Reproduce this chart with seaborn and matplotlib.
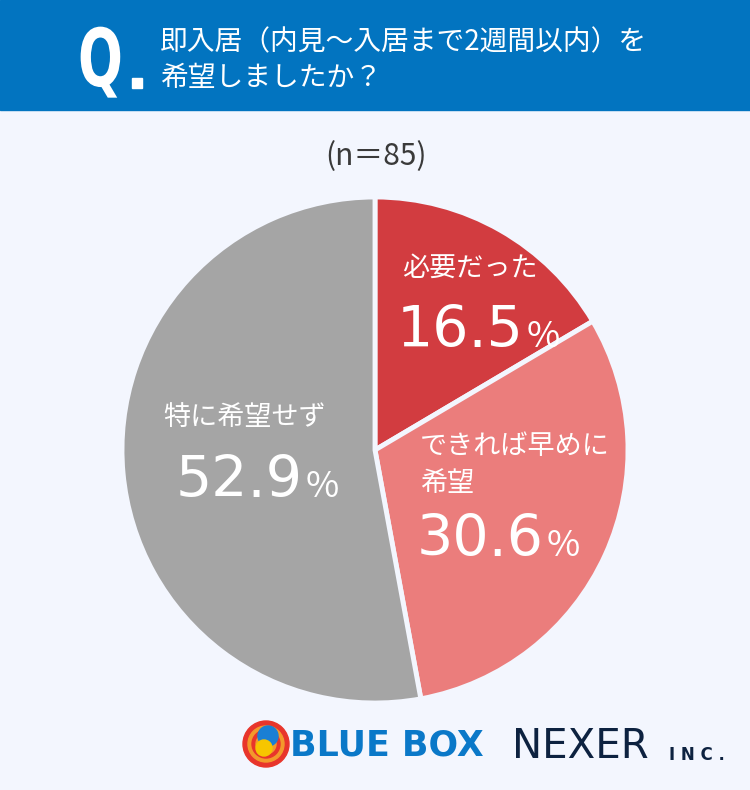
import matplotlib
matplotlib.use("Agg")
import matplotlib.pyplot as plt
import seaborn as sns
from matplotlib.patches import Rectangle, Circle, PathPatch
from matplotlib.textpath import TextPath
from matplotlib.font_manager import FontProperties
from matplotlib.transforms import Affine2D

# data
labels = ["必要だった", "できれば早めに\n希望", "特に希望せず"]
values = [16.5, 30.6, 52.9]
colors = ["#d23c40", "#eb7d7c", "#a5a5a5"]
n_total = 85
question = ["即入居（内見～入居まで2週間以内）を", "希望しましたか？"]

sns.set_theme(style="white")
plt.rcParams["font.family"] = ["Noto Sans CJK JP", "DejaVu Sans"]

W, H = 750, 790
BG = "#f3f6fe"
fig = plt.figure(figsize=(7.5, 7.9), dpi=100)
fig.patch.set_facecolor(BG)


def px(x, y):
    # pixel coords (from top-left) to figure fraction
    return x / W, 1 - y / H


# header band
fig.patches.append(Rectangle((0, 1 - 110 / H), 1, 110 / H, transform=fig.transFigure,
                             color="#0274c0", zorder=0))

# condensed bold "Q" drawn as a path (pixel space)
qpath = TextPath((0, 0), "Q", size=80, prop=FontProperties(family="DejaVu Sans", weight="bold"))
qt = Affine2D().scale(0.66, 1.0).translate(78, H - 86)
fig.patches.append(PathPatch(qt.transform_path(qpath), color="white", lw=0,
                             transform=None, zorder=2))
fig.patches.append(Rectangle((132 / W, 1 - 88 / H), 10 / W, 10 / H, transform=fig.transFigure,
                             color="white", zorder=2))
fig.text(*px(160, 42), question[0], color="white", fontsize=20, va="center", ha="left")
fig.text(*px(160, 78), question[1], color="white", fontsize=20, va="center", ha="left")

fig.text(*px(376, 157), f"(n＝{n_total})", color="#3a3a3a",
         fontsize=21.5, va="center", ha="center")

# pie
r = 253
cx, cy = 375, 450
ax = fig.add_axes([(cx - r) / W, (H - cy - r) / H, 2 * r / W, 2 * r / H])
ax.pie(values, colors=colors, startangle=90, counterclock=False,
       wedgeprops=dict(edgecolor=BG, linewidth=3.5))
ax.set_aspect("auto")
ax.set_xlim(-1, 1)
ax.set_ylim(-1, 1)
ax.axis("off")

renderer = fig.canvas.get_renderer()


def pct(x, y, v):
    t = fig.text(*px(x, y), f"{v}", color="white", fontsize=41,
                 family=["DejaVu Sans"], va="baseline", ha="left")
    bb = t.get_window_extent(renderer)
    fig.text(bb.x1 / W + 3 / W, px(x, y)[1], "%", color="white", fontsize=26,
             va="baseline", ha="left")


# slice labels
fig.text(*px(402, 268), labels[0], color="white", fontsize=19.5, va="center", ha="left")
pct(397, 347, values[0])

lab2 = labels[1].split("\n")
fig.text(*px(420, 446), lab2[0], color="white", fontsize=19.5, va="center", ha="left")
fig.text(*px(420, 483), lab2[1], color="white", fontsize=19.5, va="center", ha="left")
pct(417, 556, values[1])

fig.text(*px(163, 417), labels[2], color="white", fontsize=19.5, va="center", ha="left")
pct(176, 497, values[2])

# logos
lx, ly = 266, 744
for rad, col in [(23, "#e8352b"), (18, "#f39a2b"), (14, "#e8352b"), (10, "#f39a2b")]:
    fig.patches.append(Circle((lx, H - ly), rad, transform=None, color=col, zorder=3))
fig.patches.append(Circle((lx + 2, H - ly + 8), 10, transform=None, color="#1a7fd4", zorder=4))
fig.patches.append(Circle((lx - 2, H - ly - 4), 8, transform=None, color="#f7c600", zorder=4))
fig.text(*px(290, 746), "BLUE BOX", color="#0a78c8", fontsize=25, fontweight="black",
         family=["DejaVu Sans"], va="center", ha="left")
fig.text(*px(512, 747), "NEXER", color="#0d2240", fontsize=29,
         family=["DejaVu Sans"], va="center", ha="left")
fig.text(*px(669, 755), "I N C .", color="#0d2240", fontsize=12, fontweight="bold",
         family=["DejaVu Sans"], va="center", ha="left")

fig.savefig("out.png", dpi=100, facecolor=fig.get_facecolor())
